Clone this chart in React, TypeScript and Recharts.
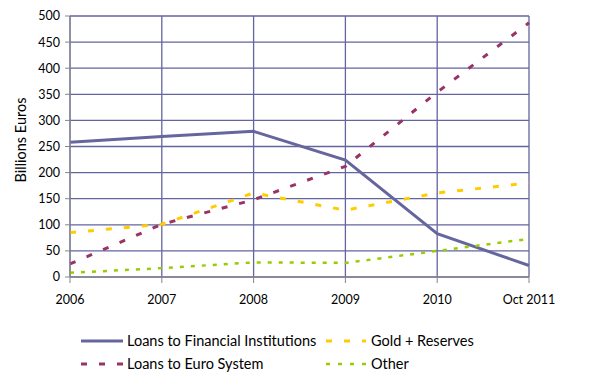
import React from 'react';
import { LineChart, Line, XAxis, YAxis, CartesianGrid, Label } from 'recharts';

const categories = ['2006', '2007', '2008', '2009', '2010', 'Oct 2011'];
const loansFinancial = [258, 269, 279, 224, 83, 22];
const loansEuroSystem = [25, 101, 148, 212, 354, 487];
const goldReserves = [85, 101, 161, 128, 161, 180];
const other = [8, 17, 28, 27, 50, 73];
const yTicks = [0, 50, 100, 150, 200, 250, 300, 350, 400, 450, 500];

const seriesDefs = [
  { key: 'fi', name: 'Loans to Financial Institutions', color: '#66669E', dash: undefined as string | undefined, width: 3, icon: 42 },
  { key: 'gold', name: 'Gold + Reserves', color: '#FFCC00', dash: '6 12', width: 3, icon: 40 },
  { key: 'euro', name: 'Loans to Euro System', color: '#993366', dash: '6 12', width: 3, icon: 42 },
  { key: 'other', name: 'Other', color: '#99CC00', dash: '4 7', width: 2.5, icon: 40 },
];

const data = categories.map((c, i) => ({
  cat: c,
  fi: loansFinancial[i],
  euro: loansEuroSystem[i],
  gold: goldReserves[i],
  other: other[i],
}));

const FONT = 'Lato, "Open Sans", sans-serif';

export default function App() {
  return (
    <div style={{ position: 'relative', width: 590, height: 370, fontFamily: FONT }}>
      <LineChart width={590} height={300} data={data} margin={{ top: 8, right: 69, left: 0, bottom: 0 }}>
        <CartesianGrid stroke="#6464A0" strokeWidth={1.3} horizontal vertical />
        <XAxis
          dataKey="cat"
          interval={0}
          height={31}
          stroke="#868686"
          tickLine={{ stroke: '#868686' }}
          tickSize={6}
          tickMargin={12}
          tick={{ fill: '#000', fontSize: 12.5, fontFamily: FONT }}
          padding={{ left: 0, right: 0 }}
        />
        <YAxis
          width={62}
          domain={[0, 500]}
          ticks={yTicks}
          interval={0}
          stroke="#868686"
          tickSize={5}
          tickMargin={5}
          tick={{ fill: '#000', fontSize: 12.5, fontFamily: FONT }}
        >
          <Label
            content={() => (
              <text
                x={12}
                y={132}
                transform="rotate(-90 12 132)"
                textAnchor="middle"
                dominantBaseline="central"
                fontSize={14.5}
                fontFamily={FONT}
                fill="#000"
              >
                Billions Euros
              </text>
            )}
          />
        </YAxis>
        {seriesDefs.map((s) => (
          <Line
            key={s.key}
            type="linear"
            dataKey={s.key}
            name={s.name}
            stroke={s.color}
            strokeWidth={s.width}
            strokeDasharray={s.dash}
            dot={false}
            activeDot={false}
            isAnimationActive={false}
          />
        ))}
      </LineChart>
      <div style={{ position: 'absolute', left: 73, top: 324, width: 420, display: 'grid', gridTemplateColumns: '245px 170px', rowGap: 6, fontSize: 14.5, color: '#000' }}>
        {seriesDefs.map((s) => (
          <div key={s.key} style={{ display: 'flex', alignItems: 'center', height: 17, whiteSpace: 'nowrap' }}>
            <svg width={s.icon} height={6} style={{ marginRight: s.icon === 42 ? 4 : 5 }}>
              <line x1={0} y1={3} x2={s.icon} y2={3} stroke={s.color} strokeWidth={s.width} strokeDasharray={s.dash === '4 7' ? '4 8' : s.dash} />
            </svg>
            <span>{s.name}</span>
          </div>
        ))}
      </div>
    </div>
  );
}
